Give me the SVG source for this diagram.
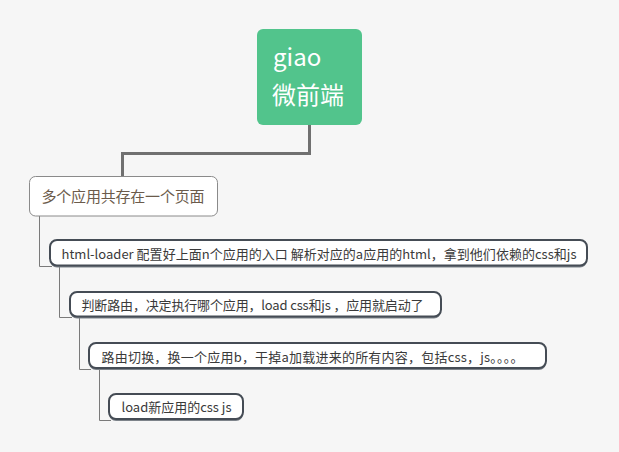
<svg xmlns="http://www.w3.org/2000/svg" width="619" height="452" viewBox="0 0 619 452">
<style>
.t{font-family:"Noto Sans CJK SC","Microsoft YaHei",sans-serif;font-size:13px;fill:#3a3a3a}
.sub{fill:#fff;stroke:#454c55;stroke-width:2}
.sh{fill:#7d838a}
.c{fill:none;stroke:#7a7a7a;stroke-width:1}
</style>
<rect width="619" height="452" fill="#f6f6f6"/>
<g id="connectors">
<path d="M309.5,125 V153.5 H122.5 V176" fill="none" stroke="#707070" stroke-width="3"/>
<path class="c" d="M39.5,216 V266.5 H52"/>
<path class="c" d="M59.5,267 V317.5 H72"/>
<path class="c" d="M79.5,318 V369.5 H91"/>
<path class="c" d="M99.5,370 V420.5 H111"/>
</g>
<g id="root">
<rect x="257" y="29" width="105" height="96" rx="6" fill="#52c48c"/>
<text x="273" y="66" font-family="Noto Sans CJK SC, sans-serif" font-size="24" fill="#fff">giao</text>
<text x="272" y="104" font-family="Noto Sans CJK SC, sans-serif" font-size="24" fill="#fff">微前端</text>
</g>
<g id="n1">
<rect x="29.5" y="176.5" width="188" height="39.5" rx="6" fill="#fff" stroke="#8a8a8a" stroke-width="1"/>
<text x="41.5" y="202" font-family="Noto Sans CJK SC, sans-serif" font-size="15" fill="#6b5b4b" textLength="163" lengthAdjust="spacing">多个应用共存在一个页面</text>
</g>
<g id="n2">
<rect class="sh" x="50" y="241.5" width="537" height="26" rx="7"/>
<rect class="sub" x="50" y="240" width="537" height="25.5" rx="7"/>
<text class="t" x="61.5" y="259" textLength="515" lengthAdjust="spacing">html-loader 配置好上面n个应用的入口 解析对应的a应用的html，拿到他们依赖的css和js</text>
</g>
<g id="n3">
<rect class="sh" x="70" y="293.5" width="371" height="25" rx="7"/>
<rect class="sub" x="70" y="292" width="371" height="24.5" rx="7"/>
<text class="t" x="81.5" y="310" textLength="342" lengthAdjust="spacing">判断路由，决定执行哪个应用，load css和js ，应用就启动了</text>
</g>
<g id="n4">
<rect class="sh" x="89" y="344.5" width="457" height="25.5" rx="7"/>
<rect class="sub" x="89" y="343" width="457" height="25" rx="7"/>
<text class="t" x="101.5" y="361.5" textLength="422" lengthAdjust="spacing">路由切换，换一个应用b，干掉a加载进来的所有内容，包括css，js。。。。</text>
</g>
<g id="n5">
<rect class="sh" x="109" y="395.5" width="134" height="25.5" rx="7"/>
<rect class="sub" x="109" y="394" width="134" height="25" rx="7"/>
<text class="t" x="121.5" y="412" textLength="110" lengthAdjust="spacing">load新应用的css js</text>
</g>
</svg>
